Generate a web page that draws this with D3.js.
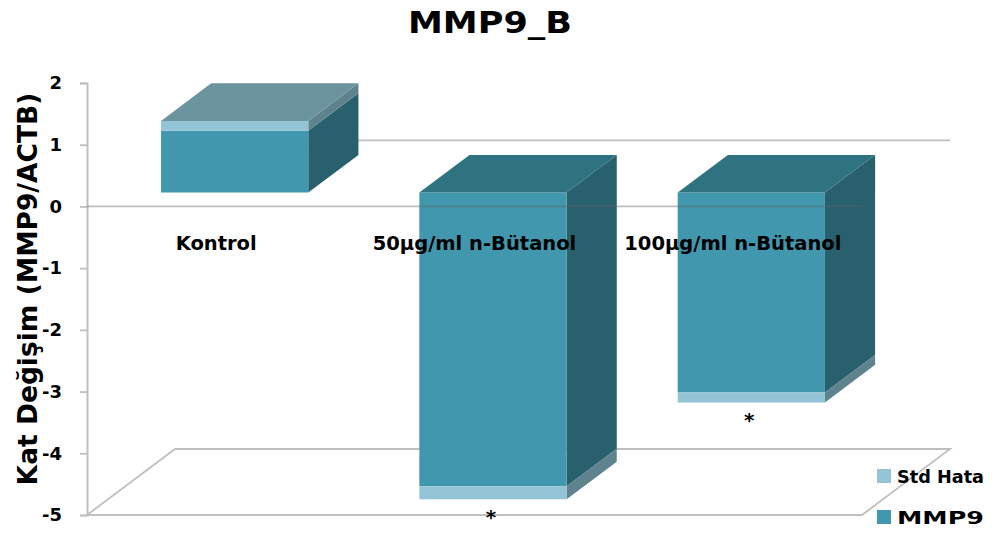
<!DOCTYPE html>
<html>
<head>
<meta charset="utf-8">
<script src="https://cdn.jsdelivr.net/npm/d3@7"></script>
<style>
  html, body { margin: 0; padding: 0; background: #fff; }
  svg { display: block; font-family: "DejaVu Sans", sans-serif; font-weight: bold; }
</style>
</head>
<body>
<svg id="chart" width="992" height="535"></svg>
<script>
// Fold change of MMP9 (normalised to ACTB) with standard error, stacked per group
const categories = ["Kontrol", "50µg/ml n-Bütanol", "100µg/ml n-Bütanol"];
const mmp9 = [1.00, -4.76, -3.24];
const stdHata = [0.16, -0.21, -0.16];
const significance = ["", "*", "*"];
const yTicks = [2, 1, 0, -1, -2, -3, -4, -5];
const seriesNames = ["Std Hata", "MMP9"];

const svg = d3.select("#chart");

// Front plane of the plot box
const plot = { left: 87, right: 862, top: 83, bottom: 515 };
// Oblique depth vector for the full box depth
const depth = { dx: 88, dy: -66 };
// Bars occupy this slice of the box depth
const zFront = 0.21, zBack = 0.78;

const y = d3.scaleLinear().domain([-5, 2]).range([plot.bottom, plot.top]);
const x = d3.scaleBand().domain(categories).range([plot.left, plot.right]).paddingInner(0).paddingOuter(0);
const barWidth = x.bandwidth() * 0.57;

const proj = (px, v, z) => [px + z * depth.dx, y(v) + z * depth.dy];
const line = d3.line();

const colors = {
  grid: "#bfbfbf",
  mmpFront: "#4097ae", mmpSide: "#28606e", mmpTop: "#2f7280",
  stdFront: "#93c4d6", stdSide: "#5e838e", stdTop: "#6b949f"
};

// Floor of the box
const floor = svg.append("g").attr("fill", "none").attr("stroke", colors.grid).attr("stroke-width", 1.8);
floor.append("path").attr("d", line([proj(plot.left, -5, 0), proj(plot.right, -5, 0), proj(plot.right, -5, 1), proj(plot.left, -5, 1)]) + "Z");
// Back-wall zero line
floor.append("path").attr("d", line([proj(plot.left, 0, 1), proj(plot.right, 0, 1)]));

// Value axis
const axis = d3.axisLeft(y).tickValues(yTicks).tickSize(7).tickPadding(8).tickFormat(d => String(d));
const ga = svg.append("g").attr("transform", `translate(${plot.left},0)`).call(axis);
ga.select(".domain").attr("stroke", colors.grid).attr("stroke-width", 2);
ga.selectAll(".tick line").attr("stroke", colors.grid).attr("stroke-width", 1.8);
ga.selectAll(".tick text").attr("fill", "#000").attr("font-size", 18)
  .attr("font-family", "DejaVu Sans").attr("font-weight", "bold").attr("x", -25);

// Bars: stacked segments drawn as oblique boxes
const bars = svg.append("g");
categories.forEach((c, i) => {
  const x0 = x(c) + (x.bandwidth() - barWidth) / 2;
  const x1 = x0 + barWidth;
  const segs = [
    { from: 0, to: mmp9[i], front: colors.mmpFront, side: colors.mmpSide },
    { from: mmp9[i], to: mmp9[i] + stdHata[i], front: colors.stdFront, side: colors.stdSide }
  ];
  const g = bars.append("g");
  segs.forEach(s => {
    const hi = Math.max(s.from, s.to), lo = Math.min(s.from, s.to);
    // right side face
    g.append("path").attr("fill", s.side).attr("d", line([
      proj(x1, hi, zFront), proj(x1, hi, zBack), proj(x1, lo, zBack), proj(x1, lo, zFront)]) + "Z");
    // front face
    g.append("path").attr("fill", s.front).attr("d", line([
      proj(x0, hi, zFront), proj(x1, hi, zFront), proj(x1, lo, zFront), proj(x0, lo, zFront)]) + "Z");
  });
  // top face of the whole stack
  const topVal = Math.max(0, mmp9[i] + (mmp9[i] > 0 ? stdHata[i] : 0));
  const topColor = mmp9[i] > 0 ? colors.stdTop : colors.mmpTop;
  g.append("path").attr("fill", topColor).attr("d", line([
    proj(x0, topVal, zFront), proj(x1, topVal, zFront), proj(x1, topVal, zBack), proj(x0, topVal, zBack)]) + "Z");

  // significance marker under the bar
  if (significance[i]) {
    const bottom = Math.min(0, mmp9[i] + stdHata[i]);
    const p = proj((x0 + x1) / 2, bottom, zFront);
    svg.append("text").attr("x", p[0] - 2).attr("y", p[1] + 25)
      .attr("text-anchor", "middle").attr("font-size", 20).attr("fill", "#000")
      .text(significance[i]);
  }
});

// Category axis line at zero on the front plane
svg.append("path").attr("fill", "none").attr("stroke", "rgba(100,100,100,0.42)").attr("stroke-width", 1.8)
  .attr("d", line([[plot.left, y(0)], [plot.right, y(0)]]));

// Category labels
svg.append("g").selectAll("text").data(categories).join("text")
  .attr("x", d => x(d) + x.bandwidth() / 2)
  .attr("y", 250)
  .attr("text-anchor", "middle")
  .attr("font-size", 19.5)
  .attr("fill", "#000")
  .text(d => d);

// Title
svg.append("text").attr("x", 490).attr("y", 33).attr("text-anchor", "middle")
  .attr("font-size", 31).attr("textLength", 164).attr("lengthAdjust", "spacingAndGlyphs")
  .text("MMP9_B");

// Value axis title
svg.append("text").attr("transform", "translate(37,289) rotate(-90)").attr("text-anchor", "middle")
  .attr("font-size", 26.5).text("Kat Değişim (MMP9/ACTB)");

// Legend
const legendColors = [colors.stdFront, colors.mmpFront];
const lg = svg.append("g").attr("transform", "translate(877,469)");
seriesNames.forEach((n, i) => {
  lg.append("rect").attr("x", 0).attr("y", i * 41).attr("width", 14).attr("height", 14).attr("fill", legendColors[i]);
  lg.append("text").attr("x", 20).attr("y", i * 41 + 14).attr("font-size", 18).attr("fill", "#000")
    .attr("textLength", 87).attr("lengthAdjust", "spacingAndGlyphs").text(n);
});
</script>
</body>
</html>
